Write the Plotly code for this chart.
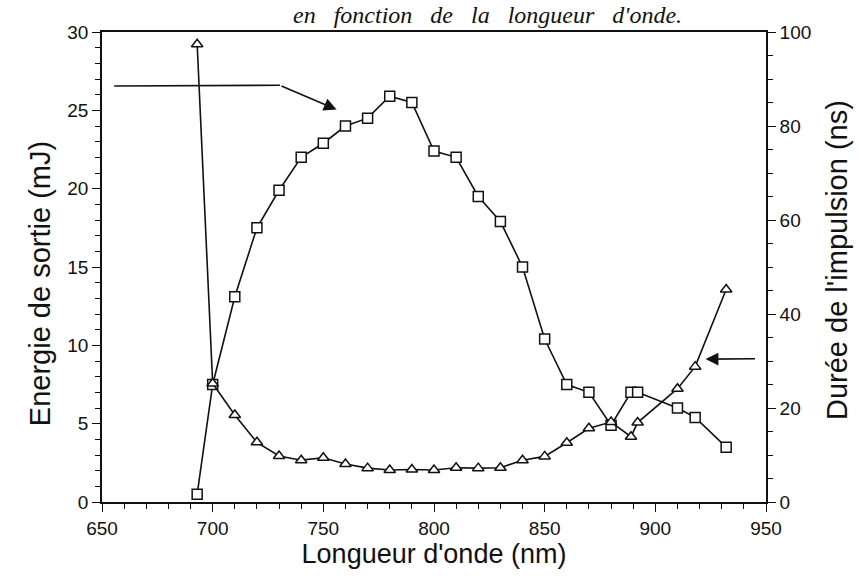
import plotly.graph_objects as go

# Wavelength (nm) of each measurement
wavelength = [693, 700, 710, 720, 730, 740, 750, 760, 770, 780, 790, 800, 810,
              820, 830, 840, 850, 860, 870, 880, 889, 892, 910, 918, 932]

# Output energy (mJ), left axis
energy = [0.5, 7.5, 13.1, 17.5, 19.9, 22.0, 22.9, 24.0, 24.5, 25.9, 25.5, 22.4, 22.0,
          19.5, 17.9, 15.0, 10.4, 7.5, 7.0, 4.9, 7.0, 7.0, 6.0, 5.4, 3.5]

# Pulse duration (ns), right axis
duration = [97.4, 25.2, 18.5, 12.7, 9.8, 8.9, 9.4, 8.1, 7.2, 6.8, 6.9, 6.8, 7.3,
            7.2, 7.3, 8.9, 9.7, 12.6, 15.7, 17.0, 13.9, 16.9, 24.1, 28.8, 45.2]

x_ticks = [650, 700, 750, 800, 850, 900, 950]
y_left_ticks = [0, 5, 10, 15, 20, 25, 30]
y_right_ticks = [0, 20, 40, 60, 80, 100]

FONT = "Liberation Sans, Arial, sans-serif"
INK = "#111111"

fig = go.Figure()

fig.add_trace(go.Scatter(
    x=wavelength, y=energy, mode="lines+markers",
    line=dict(color=INK, width=1.6),
    marker=dict(symbol="square", size=10, color="white",
                line=dict(color=INK, width=1.5)),
    showlegend=False, yaxis="y",
))

fig.add_trace(go.Scatter(
    x=wavelength, y=duration, mode="lines+markers",
    line=dict(color=INK, width=1.6),
    marker=dict(symbol="triangle-up", size=10, color="white",
                line=dict(color=INK, width=1.5)),
    showlegend=False, yaxis="y2",
))

# Bent leader pointing at the energy curve
fig.add_shape(type="line", xref="x", yref="y",
              x0=655.5, y0=26.55, x1=730.4, y1=26.6,
              line=dict(color=INK, width=1.6))
fig.add_annotation(x=756, y=25.05, ax=730.4, ay=26.6, xref="x", yref="y",
                   axref="x", ayref="y", text="", showarrow=True,
                   arrowhead=2, arrowsize=1.6, arrowwidth=1.6, arrowcolor=INK)

# Leader pointing at the duration curve
fig.add_annotation(x=922.7, y=9.12, ax=945.7, ay=9.14, xref="x", yref="y",
                   axref="x", ayref="y", text="", showarrow=True,
                   arrowhead=2, arrowsize=1.6, arrowwidth=1.6, arrowcolor=INK)

# Caption line above the frame
fig.add_annotation(x=0.58, y=1.068, xref="paper", yref="paper",
                   xanchor="center", yanchor="top", showarrow=False,
                   text="en   fonction   de   la   longueur   d'onde.",
                   font=dict(family="Liberation Serif, Times New Roman, serif",
                             size=24, color=INK, style="italic"))

# Vertical axis titles
fig.add_annotation(x=-0.093, y=0.464, xref="paper", yref="paper",
                   xanchor="center", yanchor="middle", showarrow=False,
                   textangle=-90, text="Energie de sortie (mJ)",
                   font=dict(family=FONT, size=29, color=INK))
fig.add_annotation(x=1.107, y=0.515, xref="paper", yref="paper",
                   xanchor="center", yanchor="middle", showarrow=False,
                   textangle=-90, text="Durée de l'impulsion (ns)",
                   font=dict(family=FONT, size=29, color=INK))

common_axis = dict(showline=True, linecolor=INK, linewidth=1.6,
                   ticks="outside", tickcolor=INK, tickwidth=1.4,
                   showgrid=False, zeroline=False,
                   tickfont=dict(family=FONT, size=19, color=INK))

fig.update_layout(
    width=859, height=579,
    margin=dict(l=102, r=93, t=32, b=77),
    paper_bgcolor="white", plot_bgcolor="white",
    xaxis=dict(range=[650, 950], tickvals=x_ticks, ticklen=8, mirror=True,
               minor=dict(dtick=10, ticks="outside", ticklen=5,
                          tickcolor=INK, tickwidth=1.2),
               title=dict(text="Longueur d'onde (nm)", standoff=4,
                          font=dict(family=FONT, size=27, color=INK)),
               **common_axis),
    yaxis=dict(range=[0, 30], tickvals=y_left_ticks, ticklen=8,
               minor=dict(dtick=1, ticks="outside", ticklen=5,
                          tickcolor=INK, tickwidth=1.2),
               **common_axis),
    yaxis2=dict(range=[0, 100], tickvals=y_right_ticks, ticklen=8,
                overlaying="y", side="right",
                minor=dict(dtick=5, ticks="outside", ticklen=5,
                           tickcolor=INK, tickwidth=1.2),
                **common_axis),
)

fig.write_html("out.html")
